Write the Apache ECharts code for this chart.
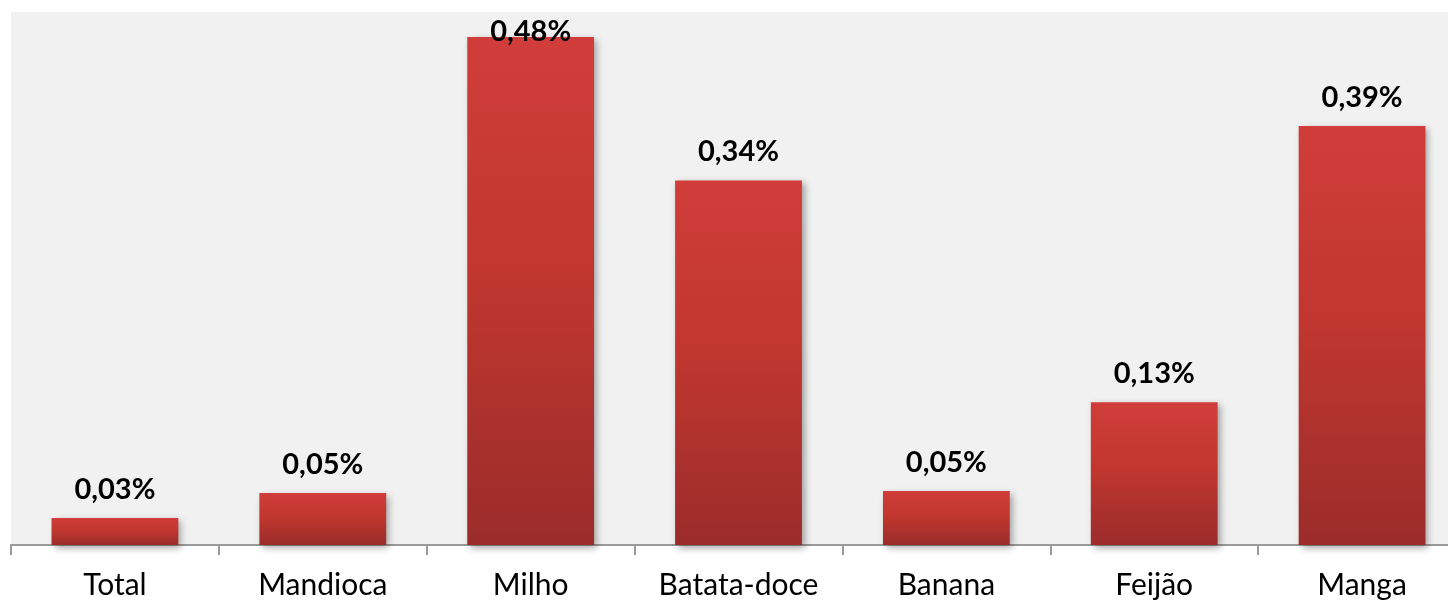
<!DOCTYPE html>
<html>
<head>
<meta charset="utf-8">
<script src="https://cdn.jsdelivr.net/npm/echarts@6/dist/echarts.min.js"></script>
<style>
  html, body { margin: 0; padding: 0; background: #fff; overflow: hidden; }
  /* a área de plotagem continua além da borda direita, como no original */
  #myChart { width: 1466px; height: 602px; }
</style>
</head>
<body>
<div id="myChart"></div>
<script>
// dados
var categorias = ['Total', 'Mandioca', 'Milho', 'Batata-doce', 'Banana', 'Feijão', 'Manga'];
var valores = [0.0253, 0.0488, 0.4765, 0.342, 0.0507, 0.134, 0.393];
var rotulos = ['0,03%', '0,05%', '0,48%', '0,34%', '0,05%', '0,13%', '0,39%'];

var myChart = echarts.init(document.getElementById('myChart'));

var barData = valores.map(function (v, i) {
  var item = { value: v };
  // o rótulo do Milho fica por cima da barra, como no original
  if (i === 2) {
    item.label = { offset: [0, 23] };
  }
  return item;
});

myChart.setOption({
  animation: false,
  backgroundColor: '#ffffff',
  grid: {
    left: 11,
    right: 0,
    top: 12,
    bottom: 57,
    show: true,
    backgroundColor: '#f1f1f1',
    borderWidth: 0
  },
  xAxis: {
    type: 'category',
    data: categorias,
    axisLine: { show: true, lineStyle: { color: '#9a9a9a', width: 2 } },
    axisTick: { show: true, length: 10, lineStyle: { color: '#9a9a9a', width: 2 } },
    axisLabel: {
      margin: 25,
      color: '#000',
      fontFamily: 'Lato',
      fontSize: 30
    }
  },
  yAxis: {
    type: 'value',
    min: 0,
    max: 0.5,
    show: false,
    splitLine: { show: false }
  },
  series: [{
    type: 'bar',
    data: barData,
    barWidth: '61%',
    itemStyle: {
      color: new echarts.graphic.LinearGradient(0, 0, 0, 1, [
        { offset: 0, color: '#d03d3a' },
        { offset: 0.45, color: '#c1372f' },
        { offset: 1, color: '#9b2c2a' }
      ]),
      shadowColor: 'rgba(0,0,0,0.35)',
      shadowBlur: 7,
      shadowOffsetX: 3,
      shadowOffsetY: 3
    },
    label: {
      show: true,
      position: 'top',
      distance: 14,
      color: '#000',
      fontFamily: 'Lato',
      fontWeight: 'bold',
      fontSize: 29,
      formatter: function (p) {
        return rotulos[p.dataIndex];
      }
    }
  }]
});
</script>
</body>
</html>
